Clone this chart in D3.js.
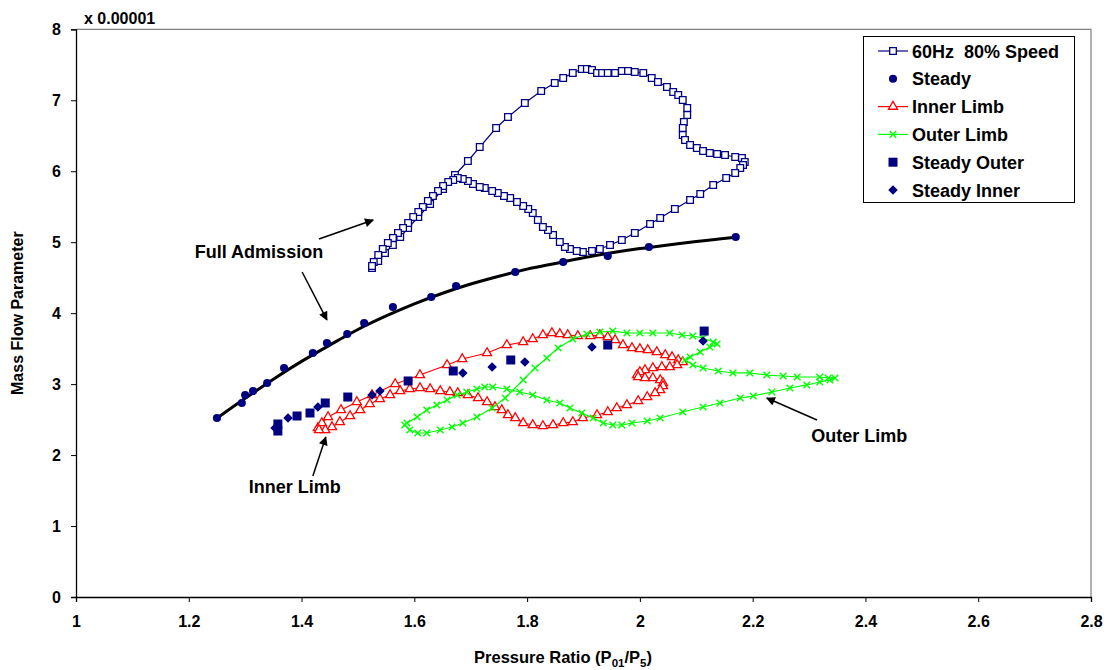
<!DOCTYPE html>
<html>
<head>
<meta charset="utf-8">
<script src="https://cdn.jsdelivr.net/npm/d3@7/dist/d3.min.js"></script>
<style>
  html, body { margin: 0; padding: 0; background: #fff; }
  svg { display: block; font-family: "Liberation Sans", Arial, sans-serif; }
  text { font-weight: bold; fill: #000; }
</style>
</head>
<body>
<svg id="chart" width="1110" height="670"></svg>
<script>
// ---- axis ticks ----
const xTickValues = [1, 1.2, 1.4, 1.6, 1.8, 2, 2.2, 2.4, 2.6, 2.8];
const xTickLabels = ["1", "1.2", "1.4", "1.6", "1.8", "2", "2.2", "2.4", "2.6", "2.8"];
const yTickValues = [0, 1, 2, 3, 4, 5, 6, 7, 8];
const yTickLabels = ["0", "1", "2", "3", "4", "5", "6", "7", "8"];

// ---- 60Hz 80% Speed loop [pressure ratio, mass flow parameter x1e-5] ----
const speed60Hz = [
  [1.525,4.636],[1.536,4.735],[1.548,4.848],[1.562,4.960],[1.575,5.073],[1.589,5.200],
  [1.607,5.355],[1.628,5.538],[1.651,5.750],[1.672,5.947],[1.695,6.144],[1.716,6.341],
  [1.745,6.609],[1.766,6.764],[1.796,6.961],[1.825,7.131],[1.849,7.243],[1.864,7.314],
  [1.881,7.384],[1.897,7.441],[1.906,7.441],[1.915,7.427],[1.924,7.384],[1.933,7.384],
  [1.943,7.384],[1.956,7.384],[1.968,7.412],[1.979,7.412],[1.991,7.398],[2.006,7.384],
  [2.021,7.314],[2.032,7.257],[2.048,7.187],[2.059,7.116],[2.068,7.074],[2.076,7.004],
  [2.084,6.891],[2.084,6.792],[2.078,6.694],[2.076,6.609],[2.076,6.511],[2.080,6.440],
  [2.089,6.370],[2.101,6.327],[2.112,6.285],[2.124,6.257],[2.137,6.243],[2.151,6.229],
  [2.169,6.200],[2.181,6.186],[2.186,6.130],[2.183,6.088],[2.178,6.045],[2.169,5.975],
  [2.153,5.905],[2.130,5.806],[2.107,5.679],[2.089,5.595],[2.062,5.468],[2.036,5.341],
  [2.018,5.256],[1.991,5.129],[1.968,5.031],[1.947,4.960],[1.929,4.904],[1.915,4.876],
  [1.899,4.862],[1.888,4.876],[1.876,4.904],[1.867,4.932],[1.858,5.003],[1.846,5.101],
  [1.837,5.172],[1.828,5.214],[1.819,5.313],[1.810,5.411],[1.802,5.468],[1.793,5.510],
  [1.782,5.566],[1.770,5.623],[1.759,5.651],[1.748,5.693],[1.738,5.721],[1.725,5.764],
  [1.716,5.778],[1.704,5.820],[1.695,5.862],[1.686,5.890],[1.677,5.905],[1.669,5.876],
  [1.660,5.848],[1.651,5.792],[1.642,5.721],[1.633,5.651],[1.624,5.580],[1.615,5.496],
  [1.607,5.425],[1.598,5.355],[1.589,5.270],[1.580,5.200],[1.571,5.129],[1.562,5.059],
  [1.553,4.989],[1.544,4.904],[1.536,4.819],[1.528,4.721],[1.525,4.665]
];

// ---- steady full admission points ----
const steady = [
  [1.250,2.522],[1.294,2.734],[1.300,2.847],[1.314,2.903],[1.339,3.016],[1.369,3.227],
  [1.420,3.438],[1.445,3.580],[1.481,3.706],[1.511,3.861],[1.562,4.087],[1.630,4.228],
  [1.674,4.383],[1.779,4.580],[1.864,4.721],[1.943,4.805],[2.016,4.932],[2.170,5.073]
];

// ---- trend line through the steady points ----
const steadyTrend = [
  [1.25,2.52],[1.30,2.80],[1.35,3.07],[1.40,3.32],[1.45,3.55],[1.50,3.77],[1.55,3.96],
  [1.60,4.13],[1.65,4.28],[1.70,4.41],[1.75,4.52],[1.80,4.62],[1.85,4.70],[1.90,4.78],
  [1.95,4.85],[2.00,4.91],[2.05,4.96],[2.10,5.01],[2.17,5.07]
];

// ---- inner limb loop ----
const innerLimb = [
  [1.429,2.382],[1.436,2.452],[1.447,2.537],[1.470,2.635],[1.498,2.748],[1.525,2.847],
  [1.566,3.002],[1.610,3.128],[1.658,3.269],[1.685,3.354],[1.729,3.438],[1.764,3.551],
  [1.793,3.593],[1.810,3.636],[1.828,3.692],[1.844,3.720],[1.858,3.706],[1.872,3.692],
  [1.890,3.678],[1.912,3.678],[1.929,3.692],[1.943,3.664],[1.956,3.622],[1.970,3.551],
  [1.986,3.509],[2.000,3.495],[2.014,3.481],[2.030,3.453],[2.045,3.410],[2.057,3.382],
  [2.068,3.340],[2.076,3.312],[2.066,3.269],[2.053,3.241],[2.039,3.241],[2.023,3.227],
  [2.009,3.199],[2.000,3.171],[1.995,3.128],[1.997,3.100],[2.009,3.086],[2.023,3.086],
  [2.036,3.058],[2.041,3.016],[2.041,2.973],[2.036,2.917],[2.027,2.875],[2.013,2.818],
  [1.997,2.762],[1.977,2.706],[1.959,2.663],[1.943,2.607],[1.924,2.565],[1.899,2.522],
  [1.881,2.466],[1.864,2.452],[1.846,2.424],[1.828,2.410],[1.810,2.424],[1.793,2.452],
  [1.779,2.522],[1.766,2.565],[1.755,2.635],[1.743,2.677],[1.729,2.748],[1.713,2.804],
  [1.695,2.847],[1.677,2.875],[1.663,2.889],[1.646,2.903],[1.628,2.931],[1.610,2.945],
  [1.592,2.931],[1.575,2.903],[1.557,2.847],[1.539,2.790],[1.521,2.720],[1.504,2.635],
  [1.486,2.551],[1.468,2.466],[1.454,2.396],[1.442,2.353],[1.431,2.353]
];

// ---- outer limb loop ----
const outerLimb = [
  [1.583,2.424],[1.592,2.353],[1.606,2.311],[1.622,2.311],[1.646,2.353],[1.667,2.396],
  [1.686,2.452],[1.711,2.537],[1.738,2.663],[1.761,2.804],[1.793,3.058],[1.814,3.227],
  [1.835,3.368],[1.855,3.509],[1.881,3.636],[1.906,3.706],[1.929,3.734],[1.952,3.748],
  [1.977,3.720],[2.000,3.720],[2.023,3.720],[2.053,3.720],[2.075,3.692],[2.094,3.678],
  [2.112,3.650],[2.130,3.593],[2.137,3.565],[2.124,3.523],[2.107,3.453],[2.089,3.382],
  [2.080,3.340],[2.094,3.269],[2.112,3.227],[2.139,3.185],[2.165,3.157],[2.195,3.157],
  [2.225,3.128],[2.254,3.114],[2.279,3.100],[2.319,3.100],[2.334,3.086],[2.346,3.086],
  [2.337,3.058],[2.319,3.030],[2.296,2.988],[2.266,2.945],[2.234,2.889],[2.201,2.832],
  [2.178,2.804],[2.142,2.734],[2.112,2.677],[2.076,2.607],[2.036,2.522],[2.013,2.480],
  [1.986,2.452],[1.968,2.424],[1.952,2.424],[1.935,2.452],[1.917,2.522],[1.897,2.593],
  [1.876,2.663],[1.858,2.734],[1.835,2.776],[1.810,2.847],[1.787,2.889],[1.764,2.931],
  [1.739,2.959],[1.725,2.959],[1.711,2.931],[1.693,2.889],[1.676,2.847],[1.658,2.776],
  [1.640,2.706],[1.622,2.635],[1.605,2.537],[1.587,2.452]
];

// ---- steady outer / inner limb points ----
const steadyOuter = [
  [1.358,2.339],[1.358,2.438],[1.392,2.551],[1.415,2.593],[1.442,2.734],[1.482,2.818],
  [1.589,3.044],[1.669,3.185],[1.771,3.340],[1.943,3.551],[2.114,3.748]
];
const steadyInner = [
  [1.353,2.382],[1.376,2.522],[1.429,2.677],[1.525,2.847],[1.539,2.903],[1.686,3.157],
  [1.738,3.241],[1.796,3.312],[1.915,3.523],[2.112,3.608]
];

// ---- annotations: label, label anchor, arrow tail, arrow head ----
const annotations = [
  { text: "Full Admission", at: [1.3245, 4.777], from: [1.431, 5.045], to: [1.527, 5.313] },
  { text: null,             at: null,            from: [1.401, 4.580], to: [1.445, 3.904] },
  { text: "Inner Limb",     at: [1.388, 1.466],  from: [1.420, 1.705], to: [1.443, 2.255] },
  { text: "Outer Limb",     at: [2.389, 2.184],  from: [2.314, 2.494], to: [2.225, 2.804] }
];

const legendItems = [
  { label: "60Hz  80% Speed", color: "#000080", line: true,  symbol: "openSquare" },
  { label: "Steady",          color: "#000080", line: false, symbol: "dot" },
  { label: "Inner Limb",      color: "#ff0000", line: true,  symbol: "openTriangle" },
  { label: "Outer Limb",      color: "#00ff00", line: true,  symbol: "cross" },
  { label: "Steady Outer",    color: "#000080", line: false, symbol: "bigSquare" },
  { label: "Steady Inner",    color: "#000080", line: false, symbol: "diamond" }
];

// ---------------------------------------------------------------
const svg = d3.select("#chart");
const plot = { left: 76, right: 1091, top: 29.3, bottom: 597 };

const x = d3.scaleLinear().domain([1, 2.8]).range([plot.left, plot.right]);
const y = d3.scaleLinear().domain([0, 8]).range([plot.bottom, plot.top]);

// marker drawing helpers
const symbolPath = {
  openSquare:   d3.symbol().type(d3.symbolSquare).size(44)(),
  dot:          d3.symbol().type(d3.symbolCircle).size(52)(),
  openTriangle: d3.symbol().type(d3.symbolTriangle).size(36)(),
  cross:        d3.symbol().type(d3.symbolTimes).size(30)(),
  bigSquare:    d3.symbol().type(d3.symbolSquare).size(81)(),
  diamond:      d3.symbol().type(d3.symbolDiamond2).size(58)()
};
function styleMarker(sel, kind, color) {
  sel.attr("d", symbolPath[kind]);
  if (kind === "openSquare" || kind === "openTriangle") {
    sel.attr("fill", "#fff").attr("stroke", color).attr("stroke-width", 1.3);
  } else if (kind === "cross") {
    sel.attr("fill", "none").attr("stroke", color).attr("stroke-width", 1.4);
  } else {
    sel.attr("fill", color).attr("stroke", "none");
  }
}

// frame: grey top / right edges
svg.append("path")
  .attr("d", `M${plot.left},${plot.top}H${plot.right}V${plot.bottom}`)
  .attr("fill", "none").attr("stroke", "#808080").attr("stroke-width", 1.2);

// axes
const yAxis = d3.axisLeft(y).tickValues(yTickValues)
  .tickFormat((d, i) => yTickLabels[i]).tickSize(5).tickPadding(10);
const gy = svg.append("g").attr("transform", `translate(${plot.left},0)`).call(yAxis);

const xAxis = d3.axisBottom(x).tickValues(xTickValues)
  .tickFormat((d, i) => xTickLabels[i]).tickSize(5).tickPadding(14);
const gx = svg.append("g").attr("transform", `translate(0,${plot.bottom})`).call(xAxis);

[gx, gy].forEach(g => {
  g.select(".domain").attr("stroke", "#000").attr("stroke-width", 1.3);
  g.selectAll(".tick line").attr("stroke", "#000").attr("stroke-width", 1);
  g.selectAll(".tick text").attr("fill", "#000")
    .style("font-family", '"Liberation Sans", Arial, sans-serif')
    .style("font-weight", "bold").style("font-size", "16px");
});

// axis titles
svg.append("text").attr("x", 84).attr("y", 24)
  .style("font-size", "16px").text("x 0.00001");

svg.append("text")
  .attr("transform", `translate(23,${(plot.top + plot.bottom) / 2}) rotate(-90)`)
  .attr("text-anchor", "middle").style("font-size", "16px")
  .text("Mass Flow Parameter");

const xt = svg.append("text").attr("x", 563).attr("y", 663)
  .attr("text-anchor", "middle").style("font-size", "16.5px");
xt.append("tspan").text("Pressure Ratio (P");
xt.append("tspan").attr("dy", 4).style("font-size", "11.5px").text("01");
xt.append("tspan").attr("dy", -4).text("/P");
xt.append("tspan").attr("dy", 4).style("font-size", "11.5px").text("5");
xt.append("tspan").attr("dy", -4).text(")");

// series lines
const line = d3.line().x(d => x(d[0])).y(d => y(d[1]));
const trend = d3.line().x(d => x(d[0])).y(d => y(d[1])).curve(d3.curveMonotoneX);

function drawSeries(data, color, kind) {
  const g = svg.append("g");
  g.append("path").attr("d", line(data)).attr("fill", "none")
    .attr("stroke", color).attr("stroke-width", 1.2).attr("stroke-linejoin", "round");
  g.selectAll("path.m").data(data).join("path").attr("class", "m")
    .attr("transform", d => `translate(${x(d[0])},${y(d[1])})`)
    .call(s => styleMarker(s, kind, color));
}
function drawPoints(data, color, kind) {
  svg.append("g").selectAll("path").data(data).join("path")
    .attr("transform", d => `translate(${x(d[0])},${y(d[1])})`)
    .call(s => styleMarker(s, kind, color));
}

drawSeries(speed60Hz, "#000080", "openSquare");
svg.append("path").attr("d", trend(steadyTrend)).attr("fill", "none")
  .attr("stroke", "#000").attr("stroke-width", 3);
drawPoints(steady, "#000080", "dot");
drawSeries(innerLimb, "#ff0000", "openTriangle");
drawSeries(outerLimb, "#00ff00", "cross");
drawPoints(steadyOuter, "#000080", "bigSquare");
drawPoints(steadyInner, "#000080", "diamond");

// annotations with arrows
svg.append("defs").append("marker")
  .attr("id", "arrowhead").attr("viewBox", "0 0 10 10")
  .attr("refX", 9).attr("refY", 5).attr("markerWidth", 11).attr("markerHeight", 9)
  .attr("markerUnits", "userSpaceOnUse").attr("orient", "auto")
  .append("path").attr("d", "M0,0L10,5L0,10z").attr("fill", "#000");

annotations.forEach(a => {
  svg.append("line")
    .attr("x1", x(a.from[0])).attr("y1", y(a.from[1]))
    .attr("x2", x(a.to[0])).attr("y2", y(a.to[1]))
    .attr("stroke", "#000").attr("stroke-width", 1.5)
    .attr("marker-end", "url(#arrowhead)");
  if (a.text) {
    svg.append("text").attr("x", x(a.at[0])).attr("y", y(a.at[1]))
      .attr("text-anchor", "middle").style("font-size", "18px").text(a.text);
  }
});

// legend
const lg = svg.append("g");
lg.append("rect").attr("x", 863.5).attr("y", 36.5).attr("width", 211).attr("height", 166)
  .attr("fill", "#fff").attr("stroke", "#000").attr("stroke-width", 1);
legendItems.forEach((it, i) => {
  const cy = 51 + i * 27.8;
  if (it.line) {
    lg.append("line").attr("x1", 878).attr("x2", 908).attr("y1", cy).attr("y2", cy)
      .attr("stroke", it.color).attr("stroke-width", 1.2);
  }
  lg.append("path").attr("transform", `translate(893,${cy})`)
    .call(s => styleMarker(s, it.symbol, it.color));
  lg.append("text").attr("x", 912).attr("y", cy + 6.5)
    .style("font-size", "18px").style("white-space", "pre").text(it.label);
});
</script>
</body>
</html>
